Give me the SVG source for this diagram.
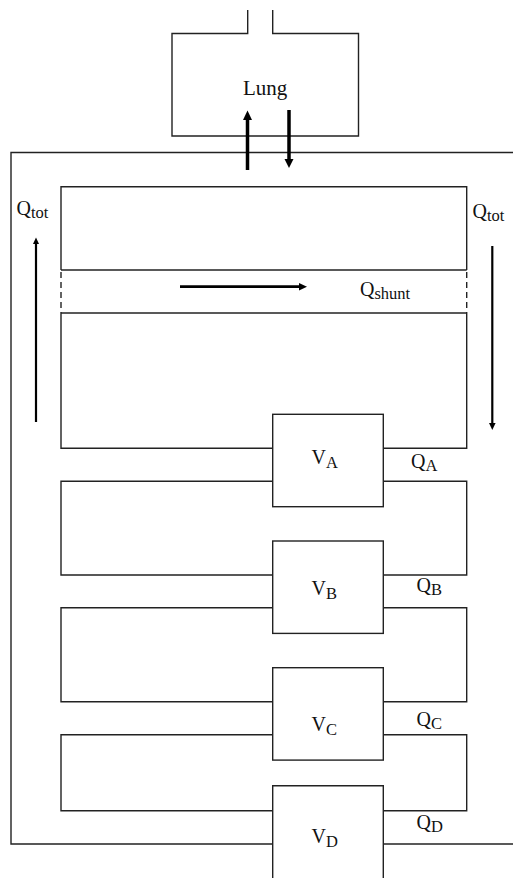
<svg xmlns="http://www.w3.org/2000/svg" width="513" height="878" viewBox="0 0 513 878">
<style>
.ln{fill:none;stroke:#222;stroke-width:1.4}
.dash{fill:none;stroke:#222;stroke-width:1.4;stroke-dasharray:6 4}
.box{fill:#fff;stroke:#222;stroke-width:1.4}
.arr{fill:none;stroke:#000;stroke-linecap:butt}
.hd{fill:#000}
text{font-family:"Liberation Serif","Times New Roman",serif;font-size:20px;fill:#111}
.sub{font-size:16.5px}
</style>
<rect width="513" height="878" fill="#fff"/>
<g id="lung">
<path class="ln" d="M247.7,10 V33.5 H172 V136 H358.5 V33.5 H272.7 V10"/>
<text x="243" y="95" style="font-size:21px">Lung</text>
</g>
<g id="connectors">
<path class="ln" d="M513,152.5 H11 V844 H272.7"/>
<path class="ln" d="M383.3,844 H513"/>
<path class="ln" d="M61,270 V186.7 H466.7 V270"/>
<path class="ln" d="M61,270 H466.7"/>
<path class="ln" d="M61,313 H466.7"/>
<path class="dash" d="M61,272 V313"/>
<path class="dash" d="M466.7,272 V313"/>
<path class="ln" d="M272.7,448.3 H61 V313"/>
<path class="ln" d="M383.3,448.3 H466.7 V313"/>
<path class="ln" d="M272.7,481.3 H61 V575 H272.7"/>
<path class="ln" d="M383.3,481.3 H466.7 V575 H383.3"/>
<path class="ln" d="M272.7,607.7 H61 V701.7 H272.7"/>
<path class="ln" d="M383.3,607.7 H466.7 V701.7 H383.3"/>
<path class="ln" d="M272.7,734.7 H61 V810.7 H272.7"/>
<path class="ln" d="M383.3,734.7 H466.7 V810.7 H383.3"/>
<line class="arr" x1="247.5" y1="170" x2="247.5" y2="119" stroke-width="3.5"/>
<path class="hd" d="M243,120 L247.5,110.5 L252,120 Z"/>
<line class="arr" x1="289" y1="110" x2="289" y2="160" stroke-width="3.5"/>
<path class="hd" d="M284.5,159 L289,168 L293.5,159 Z"/>
<line class="arr" x1="36" y1="422" x2="36" y2="243" stroke-width="2.2"/>
<path class="hd" d="M33,244 L36,237.5 L39,244 Z"/>
<line class="arr" x1="492.3" y1="246" x2="492.3" y2="424" stroke-width="2.2"/>
<path class="hd" d="M489,423 L492.3,430 L495.6,423 Z"/>
<line class="arr" x1="180" y1="286.7" x2="300" y2="286.7" stroke-width="2.8"/>
<path class="hd" d="M299,283 L307,286.7 L299,290.4 Z"/>
</g>
<g id="labels">
<text x="16.5" y="215">Q<tspan class="sub" dy="3">tot</tspan></text>
<text x="472.5" y="217.5">Q<tspan class="sub" dy="3">tot</tspan></text>
<text x="360" y="296">Q<tspan class="sub" dy="3">shunt</tspan></text>
</g>
<g id="VA">
<rect class="box" x="272.7" y="414.3" width="110.6" height="92.4"/>
<text x="311.5" y="464">V<tspan class="sub" dy="4">A</tspan></text>
<text x="411" y="468">Q<tspan class="sub" dy="3">A</tspan></text>
</g>
<g id="VB">
<rect class="box" x="272.7" y="541" width="110.6" height="92.4"/>
<text x="311.5" y="595">V<tspan class="sub" dy="4">B</tspan></text>
<text x="416.5" y="591.5">Q<tspan class="sub" dy="3">B</tspan></text>
</g>
<g id="VC">
<rect class="box" x="272.7" y="667.7" width="110.6" height="92.4"/>
<text x="311.5" y="730.5">V<tspan class="sub" dy="4">C</tspan></text>
<text x="416.5" y="726">Q<tspan class="sub" dy="3">C</tspan></text>
</g>
<g id="VD">
<path class="box" d="M272.7,878 V785.7 H383.3 V878"/>
<text x="311.5" y="843">V<tspan class="sub" dy="4">D</tspan></text>
<text x="416.5" y="829">Q<tspan class="sub" dy="3">D</tspan></text>
</g>
</svg>
